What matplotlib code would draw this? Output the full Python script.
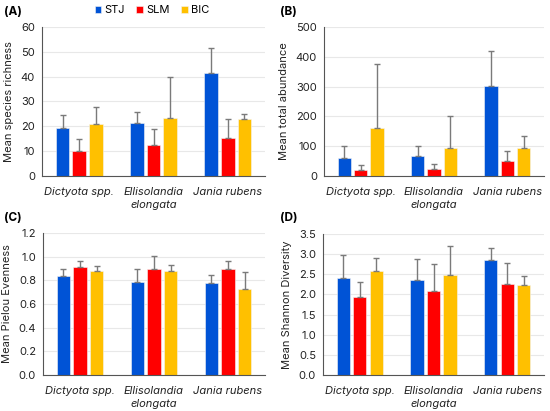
import matplotlib
matplotlib.use("Agg")
import matplotlib.pyplot as plt
import numpy as np

plt.rcParams['font.family'] = ['Inter', 'DejaVu Sans']

# data
algae = ['Dictyota spp.', 'Ellisolandia\nelongata', 'Jania rubens']
sites = ['STJ', 'SLM', 'BIC']
colors = ['#0053d6', '#ff0000', '#ffc000']

rich_mean = [[19.3, 21.3, 41.4], [10.2, 12.3, 15.5], [20.8, 23.2, 22.9]]
rich_top = [[24.7, 25.7, 51.5], [15.0, 18.9, 23.0], [27.8, 39.9, 24.8]]

abund_mean = [[62, 66, 302], [21, 22, 49], [162, 94, 95]]
abund_top = [[101, 101, 419], [37, 40, 85], [377, 201, 134]]

even_mean = [[0.835, 0.79, 0.774], [0.91, 0.90, 0.893], [0.876, 0.88, 0.723]]
even_top = [[0.90, 0.90, 0.845], [0.966, 1.003, 0.966], [0.924, 0.926, 0.867]]

shan_mean = [[2.41, 2.37, 2.86], [1.94, 2.08, 2.27], [2.57, 2.49, 2.24]]
shan_top = [[2.97, 2.89, 3.16], [2.32, 2.76, 2.79], [2.91, 3.19, 2.45]]

panels = [
    ('(A)', 'Mean species richness', rich_mean, rich_top, (0, 60), np.arange(0, 61, 10), '%d'),
    ('(B)', 'Mean total abundance', abund_mean, abund_top, (0, 500), np.arange(0, 501, 100), '%d'),
    ('(C)', 'Mean Pielou Evenness', even_mean, even_top, (0, 1.2), np.arange(0, 1.21, 0.2), '%.1f'),
    ('(D)', 'Mean Shannon Diversity', shan_mean, shan_top, (0, 3.5), np.arange(0, 3.51, 0.5), '%.1f'),
]

fig = plt.figure(figsize=(5.5, 4.11), dpi=100)
W, H = 550, 411
boxes = [(42, 27, 265, 176), (324, 27, 544, 176), (43, 233, 265, 375), (323, 234, 544, 375)]
label_pos = [(4, 12), (280, 12), (4, 218), (280, 218)]

x = np.arange(len(algae))
bw = 0.18
step = 0.224

for i, (tag, ylab, means, tops, ylim, yt, fmt) in enumerate(panels):
    l, t, r, b = boxes[i]
    ax = fig.add_axes([l / W, 1 - b / H, (r - l) / W, (b - t) / H])
    for j in range(3):
        pos = x + (j - 1) * step
        m = np.array(means[j])
        err = np.array(tops[j]) - m
        ax.bar(pos, m, bw, color=colors[j], edgecolor='#f4f4f4', linewidth=0.4,
               label=sites[j], zorder=2)
        ax.errorbar(pos, m, yerr=[np.zeros_like(err), err], fmt='none',
                    ecolor='#7a7a7a', elinewidth=1.0, capsize=2.2, capthick=1.0, zorder=3)
    ax.set_xlim(-0.5, 2.5)
    ax.set_ylim(*ylim)
    ax.set_yticks(yt)
    ax.set_yticklabels([fmt % v for v in yt], fontsize=8, color='#222222')
    ax.set_xticks(x)
    ax.set_xticklabels(algae, fontsize=8, style='italic', color='#222222',
                       linespacing=1.35)
    ax.tick_params(axis='x', length=0, pad=8)
    ax.tick_params(axis='y', length=0, pad=5)
    ax.set_ylabel(ylab, fontsize=8, color='#222222', labelpad=5)
    ax.grid(axis='y', color='#e8e8e8', linewidth=0.8, zorder=0)
    ax.set_axisbelow(True)
    for s in ['top', 'right']:
        ax.spines[s].set_visible(False)
    ax.spines['left'].set_color('#555555')
    ax.spines['bottom'].set_color('#555555')
    fig.text(label_pos[i][0] / W, 1 - label_pos[i][1] / H, tag, fontsize=8.5,
             fontweight='bold', va='center', ha='left')
    if i == 0:
        ax.legend(loc='center', bbox_to_anchor=((152 - l) / (r - l), (b - 10) / (b - t)),
                  ncol=3, frameon=False, fontsize=8, handlelength=0.6, handleheight=0.6,
                  handletextpad=0.3, columnspacing=1.0, borderaxespad=0)

fig.savefig('out.png', dpi=100)
